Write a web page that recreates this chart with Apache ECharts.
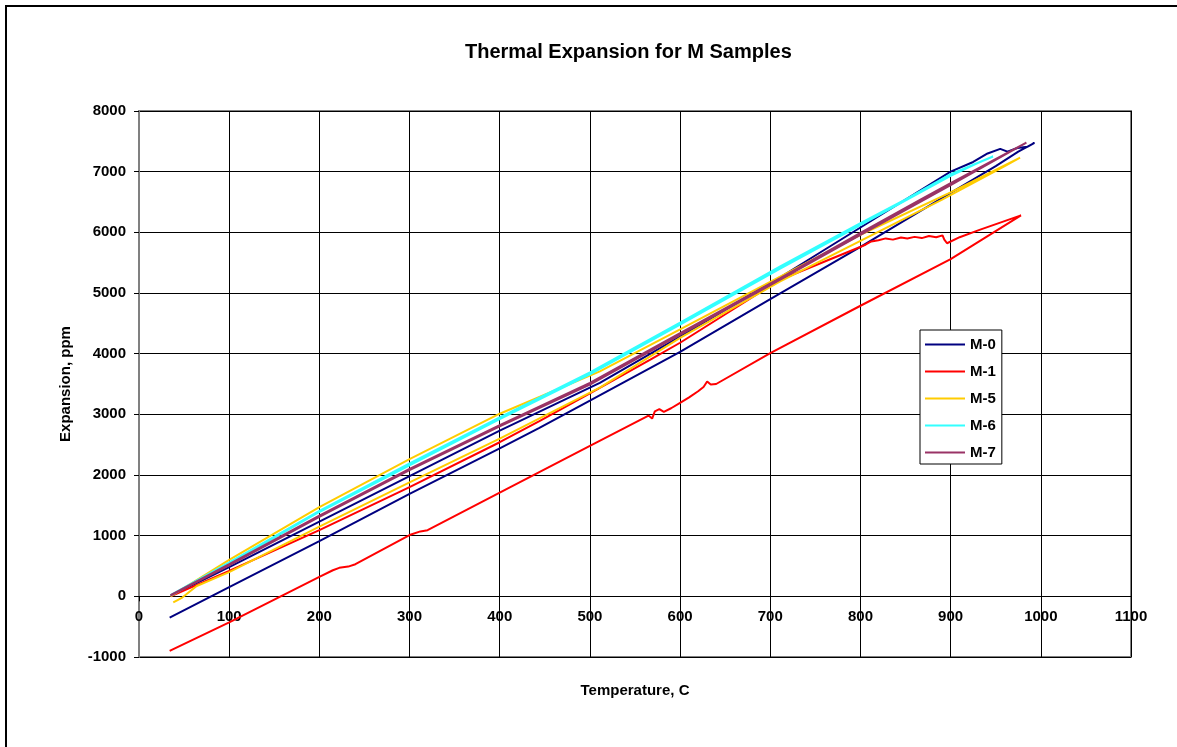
<!DOCTYPE html>
<html>
<head>
<meta charset="utf-8">
<script src="https://cdn.jsdelivr.net/npm/echarts@6/dist/echarts.min.js"></script>
<style>
html,body{margin:0;padding:0;background:#fff;}
#chart{width:1177px;height:747px;}
</style>
</head>
<body>
<div id="chart"></div>
<script>
// ---- Data: [temperature C, expansion ppm] ----
var seriesNames = ['M-0', 'M-1', 'M-5', 'M-6', 'M-7'];

var m0 = [[35,10],[100,480],[200,1230],[300,1980],[400,2730],[511,3520],[600,4280],[711,5260],[800,6080],[900,7000],[925,7160],[941,7300],[955,7375],[963,7330],[974,7390],[985,7410],[993,7473],
  [975,7330],[950,7090],[900,6650],[800,5760],[700,4900],[600,4030],[500,3226],[444,2777],[400,2440],[300,1690],[200,910],[100,153],[34,-350]];

var m1 = [[35,0],[100,420],[200,1090],[300,1800],[400,2540],[444,2887],[500,3347],[567,3901],[600,4180],[711,5218],[801,5767],[806,5800],[812,5850],[820,5870],[828,5900],[836,5880],[845,5915],[852,5900],[860,5925],[868,5905],[876,5940],[884,5920],[891,5950],[893,5880],[896,5820],[910,5920],[932,6040],[978,6280],
  [900,5560],[800,4790],[700,4010],[640,3500],[634,3490],[630,3540],[626,3450],[620,3380],[610,3280],[600,3190],[590,3100],[582,3040],[577,3085],[572,3050],[569,2930],[565,2980],[500,2480],[400,1710],[320,1090],[312,1070],[300,1010],[240,530],[232,490],[222,470],[215,430],[200,320],[100,-430],[34,-900]];

var m5 = [[35,0],[100,600],[200,1470],[300,2260],[400,3010],[511,3709],[600,4400],[711,5270],[800,5960],[900,6660],[977,7230],
  [960,7090],[890,6535],[800,5860],[711,5191],[600,4260],[511,3440],[400,2600],[300,1880],[200,1150],[100,400],[64,170],[48,-20],[38,-100]];

var m6 = [[35,20],[100,560],[200,1410],[300,2190],[400,2950],[500,3690],[600,4510],[711,5440],[800,6150],[849,6535],[900,6960],[947,7250],
  [930,7140],[900,6930],[800,6120],[711,5400],[600,4480],[500,3660],[400,2920],[300,2160],[200,1390],[100,540],[35,10]];

var m7 = [[35,20],[100,530],[200,1330],[300,2100],[400,2820],[500,3520],[600,4340],[711,5246],[800,5990],[866,6535],[900,6810],[984,7479],
  [900,6780],[800,5960],[711,5220],[600,4310],[500,3490],[400,2800],[300,2080],[200,1310],[100,510],[35,10]];

var seriesData = [m0, m1, m5, m6, m7];
var seriesColors = ['#000080', '#FF0000', '#FFCC00', '#33FFFF', '#993366'];

var xTicks = {min: 0, max: 1100, interval: 100};
var yTicks = {min: -1000, max: 8000, interval: 1000};

var chart = echarts.init(document.getElementById('chart'), null, {renderer: 'canvas'});
var font = 'Liberation Sans, Arial, sans-serif';
var plain = function (v) { return String(v); };

var option = {
  animation: false,
  backgroundColor: '#fff',
  title: {
    text: 'Thermal Expansion for M Samples',
    left: 460,
    top: 37,
    textStyle: {fontFamily: font, fontSize: 20, fontWeight: 'bold', color: '#000'}
  },
  legend: {
    orient: 'vertical',
    left: 920,
    top: 330,
    data: seriesNames,
    icon: 'rect',
    itemWidth: 40,
    itemHeight: 2,
    itemGap: 10,
    padding: [6, 6, 3, 5],
    backgroundColor: '#fff',
    borderColor: '#000',
    borderWidth: 1,
    textStyle: {fontFamily: font, fontSize: 15, fontWeight: 'bold', color: '#000', lineHeight: 17}
  },
  grid: {
    left: 139, right: 46, top: 111, bottom: 90,
    outerBoundsMode: 'none',
    containLabel: false,
    show: true, borderColor: '#808080', borderWidth: 2, backgroundColor: '#fff'
  },
  xAxis: {
    type: 'value',
    min: xTicks.min, max: xTicks.max, interval: xTicks.interval,
    name: 'Temperature, C',
    nameLocation: 'middle',
    nameGap: 87,
    nameTextStyle: {fontFamily: font, fontSize: 15, fontWeight: 'bold', color: '#000'},
    offset: 0,
    axisLine: {onZero: false, lineStyle: {color: '#000', width: 1}},
    axisTick: {show: true, inside: false, length: 5, lineStyle: {color: '#000'}},
    axisLabel: {margin: 13, formatter: plain, fontFamily: font, fontSize: 15, fontWeight: 'bold', color: '#000'},
    splitLine: {show: true, lineStyle: {color: '#000', width: 1}}
  },
  yAxis: {
    type: 'value',
    min: yTicks.min, max: yTicks.max, interval: yTicks.interval,
    name: 'Expansion, ppm',
    nameLocation: 'middle',
    nameGap: 66,
    nameTextStyle: {fontFamily: font, fontSize: 15, fontWeight: 'bold', color: '#000'},
    axisLine: {show: true, onZero: false, lineStyle: {color: '#808080', width: 2}},
    axisTick: {show: true, inside: false, length: 5, lineStyle: {color: '#000'}},
    axisLabel: {margin: 13, formatter: plain, fontFamily: font, fontSize: 15, fontWeight: 'bold', color: '#000'},
    splitLine: {show: true, lineStyle: {color: '#000', width: 1}}
  },
  graphic: [{
    type: 'rect',
    shape: {x: 6, y: 6, width: 1200, height: 800},
    style: {fill: 'none', stroke: '#000', lineWidth: 2},
    silent: true, z: 100
  }],
  series: seriesNames.map(function (n, i) {
    return {
      name: n,
      type: 'line',
      data: seriesData[i],
      symbol: 'none',
      smooth: false,
      color: seriesColors[i],
      lineStyle: {color: seriesColors[i], width: 2},
      clip: true
    };
  })
};
chart.setOption(option);

// Place the x axis on the y = 0 line (as in the reference) using the library's own y scale.
var yZero = chart.convertToPixel({yAxisIndex: 0}, 0);
var yBottom = chart.convertToPixel({yAxisIndex: 0}, yTicks.min);
chart.setOption({xAxis: {offset: -(yBottom - yZero)}});
</script>
</body>
</html>
